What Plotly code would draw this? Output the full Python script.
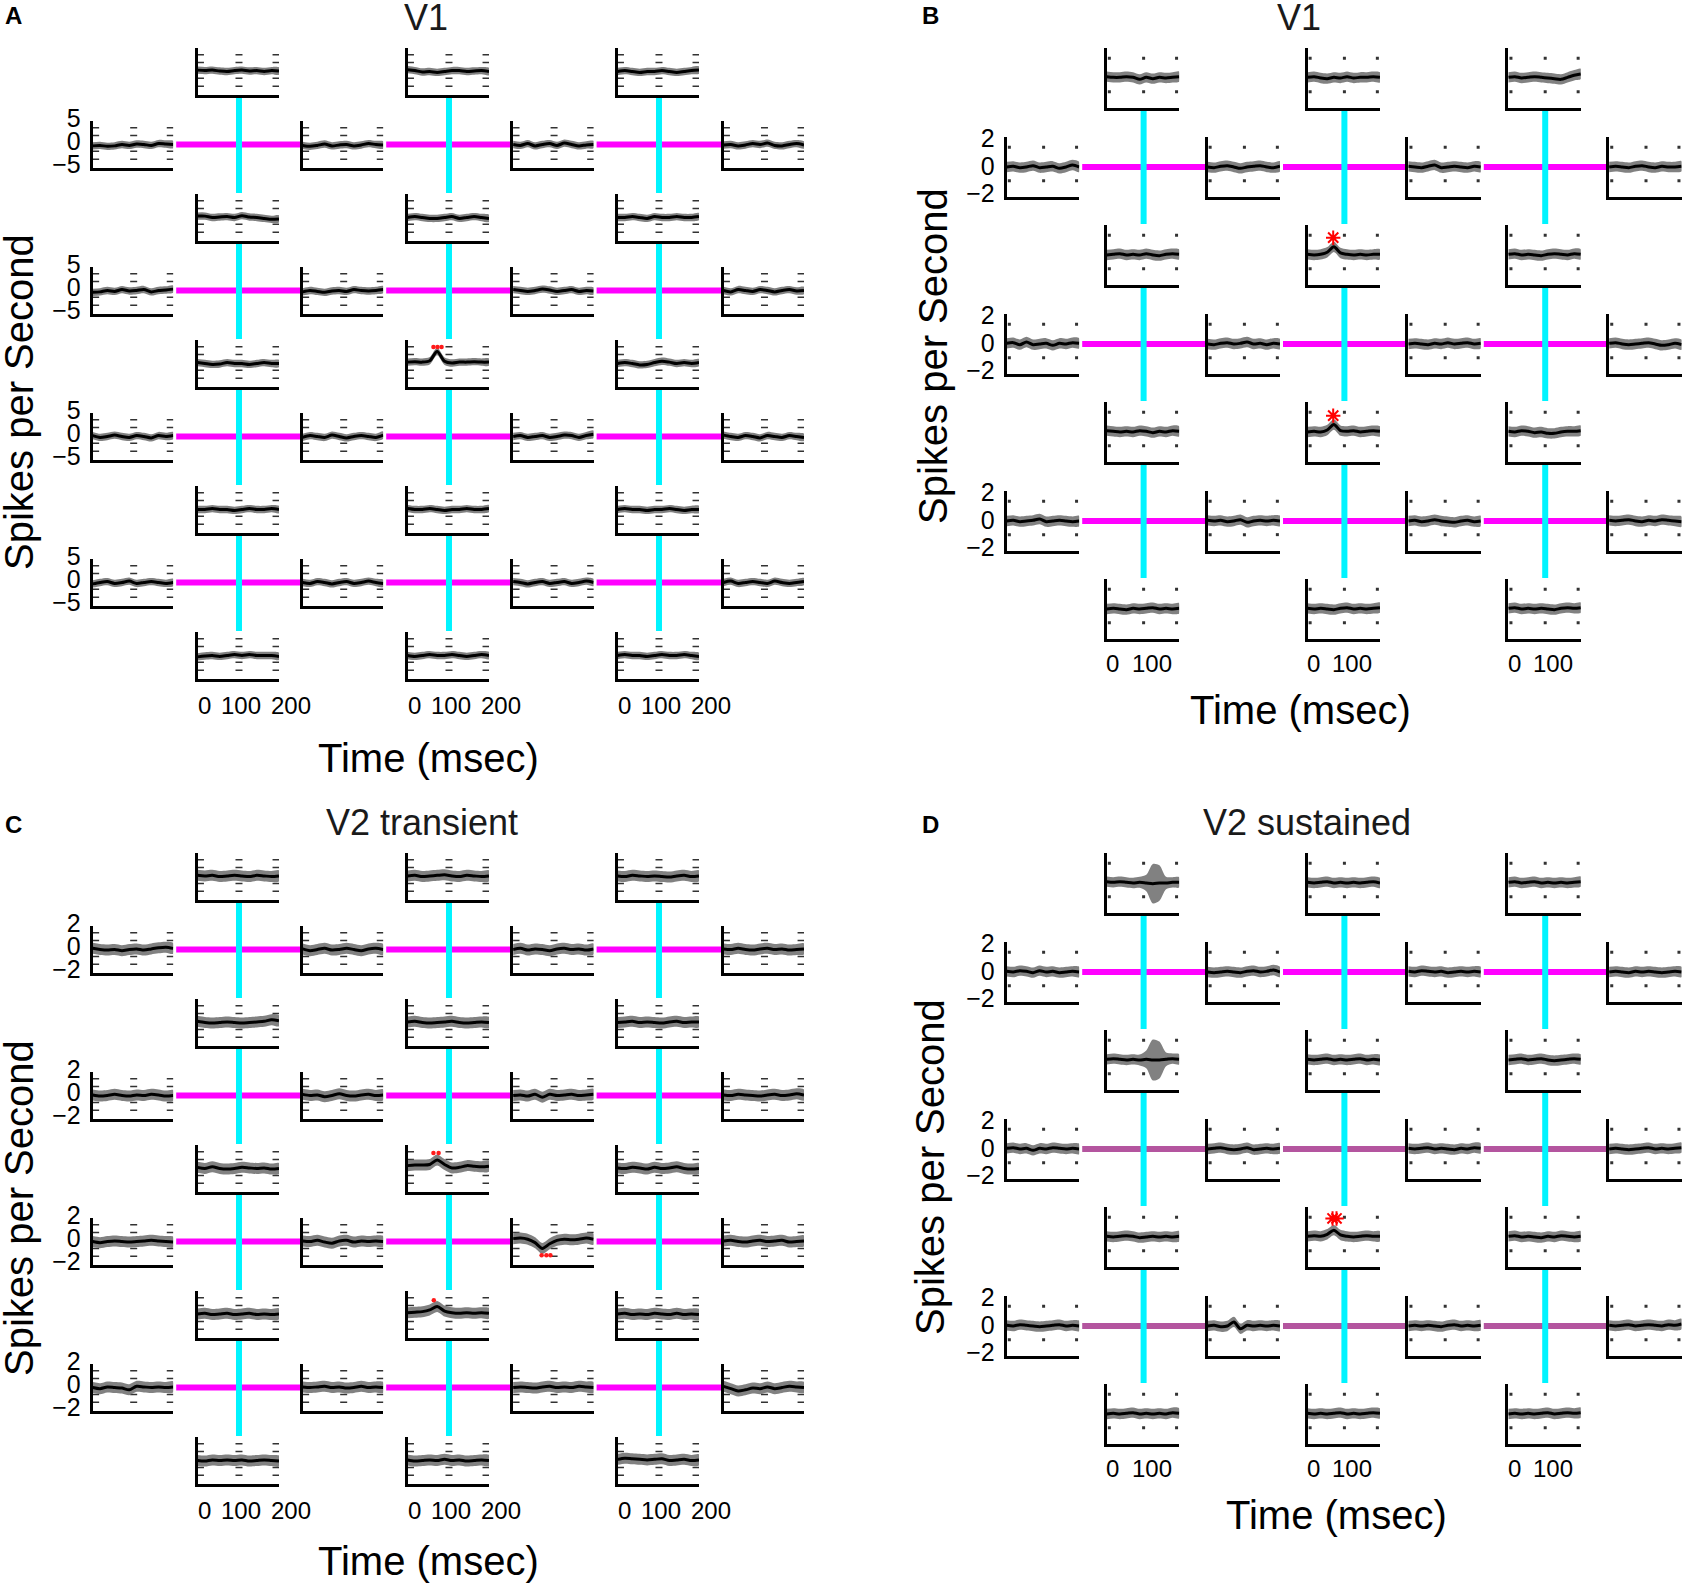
import plotly.graph_objects as go

W, H = 1683, 1585
FONT = "Liberation Sans, Arial, sans-serif"

# ---------------- data ----------------
T_MS = [-12, 8, 28, 48, 68, 88, 108, 128, 148, 168, 188, 208]
X_RANGE = [-12, 208]

# Panel A (V1) - horizontal-row plots (4 rows x 4) and vertical-column plots (5 rows x 3)
A_H = [
    [-0.3, -0.2, -0.4, -0.3, 0.0, -0.2, 0.1, 0.0, -0.2, 0.2, 0.1, 0.0],
    [-0.2, -0.4, -0.2, 0.1, -0.3, -0.1, 0.0, -0.3, -0.1, 0.2, 0.0, -0.1],
    [0.0, -0.2, 0.2, -0.3, 0.0, 0.2, -0.2, 0.3, 0.0, -0.3, -0.1, 0.0],
    [-0.1, 0.0, -0.3, -0.1, 0.2, 0.0, 0.3, -0.2, -0.3, 0.0, 0.2, -0.1],
    [-0.4, -0.3, 0.0, -0.2, 0.2, -0.1, 0.0, 0.2, -0.3, 0.0, 0.1, 0.3],
    [-0.3, 0.0, -0.2, -0.4, -0.1, 0.0, -0.2, 0.2, 0.0, -0.1, 0.0, 0.2],
    [0.2, 0.0, -0.2, 0.0, 0.3, 0.1, -0.2, 0.0, 0.2, -0.2, 0.0, -0.1],
    [0.0, -0.3, 0.2, 0.0, -0.2, 0.2, 0.0, -0.3, 0.0, 0.2, -0.1, 0.0],
    [0.2, -0.2, 0.0, 0.3, 0.0, -0.2, 0.2, 0.0, -0.3, 0.2, 0.0, 0.2],
    [-0.2, 0.2, 0.0, -0.2, 0.3, 0.0, -0.3, 0.0, 0.2, 0.0, -0.2, 0.3],
    [0.0, 0.2, -0.2, 0.0, 0.2, -0.2, 0.0, 0.3, 0.2, -0.2, 0.2, 0.5],
    [0.3, 0.0, -0.2, 0.2, 0.0, -0.3, 0.2, 0.0, -0.2, 0.2, 0.0, -0.2],
    [-0.3, 0.0, 0.2, -0.2, 0.0, 0.3, -0.2, 0.0, 0.2, 0.0, -0.2, 0.0],
    [0.0, -0.2, 0.2, 0.0, -0.3, 0.0, 0.2, -0.2, 0.0, 0.3, 0.0, -0.2],
    [0.2, 0.0, -0.3, 0.0, 0.2, -0.2, 0.0, 0.2, -0.2, 0.0, 0.3, 0.0],
    [0.0, 0.3, -0.2, 0.0, 0.2, 0.0, -0.2, 0.3, 0.0, -0.2, 0.0, 0.2],
]
A_V = [
    [0.3, 0.2, 0.3, 0.1, 0.0, 0.2, 0.3, 0.1, 0.2, 0.0, 0.2, 0.1],
    [0.4, 0.2, -0.1, 0.0, -0.2, 0.0, 0.2, 0.2, 0.0, 0.1, 0.2, 0.0],
    [0.0, 0.2, 0.0, -0.2, 0.0, 0.0, 0.2, 0.0, -0.2, 0.0, 0.2, 0.3],
    [0.3, 0.3, 0.0, 0.1, 0.2, 0.0, 0.4, 0.1, 0.0, -0.2, -0.4, -0.3],
    [0.0, 0.2, 0.0, -0.2, -0.2, 0.0, 0.2, -0.2, 0.0, 0.2, 0.0, -0.2],
    [0.0, 0.0, 0.2, 0.0, -0.2, 0.2, 0.0, 0.0, 0.2, 0.0, 0.0, 0.2],
    [0.2, 0.0, -0.2, -0.1, 0.2, 0.0, 0.0, -0.2, 0.0, 0.2, 0.0, 0.0],
    [0.3, 0.4, 0.3, 0.6, 2.6, 0.5, 0.1, 0.3, 0.3, 0.4, 0.3, 0.3],
    [0.0, 0.2, 0.0, -0.3, -0.2, 0.2, 0.5, 0.3, 0.0, 0.2, 0.0, 0.2],
    [0.0, 0.0, 0.2, 0.0, 0.0, -0.2, 0.0, 0.2, 0.0, 0.0, 0.2, 0.0],
    [0.2, 0.0, 0.0, 0.2, 0.0, -0.2, 0.0, 0.0, 0.2, 0.0, 0.0, 0.2],
    [0.0, 0.2, 0.0, 0.0, -0.2, 0.0, 0.0, 0.2, 0.0, -0.2, 0.0, 0.0],
    [-0.3, -0.1, 0.0, -0.2, 0.0, 0.2, 0.0, 0.2, 0.0, 0.0, 0.0, -0.2],
    [0.0, -0.2, 0.0, 0.2, 0.0, 0.0, 0.2, 0.0, -0.2, 0.0, 0.2, 0.0],
    [0.0, 0.2, 0.0, 0.0, -0.2, 0.0, 0.2, 0.0, 0.0, 0.2, 0.0, -0.2],
]

# Panel B (V1) - 3 rows x 4 horizontal, 4 rows x 3 vertical
B_H = [
    [0.0, 0.05, -0.05, 0.0, 0.1, -0.05, 0.0, 0.05, -0.1, 0.0, 0.15, 0.0],
    [0.0, -0.05, 0.05, 0.1, 0.0, -0.1, 0.0, 0.05, 0.1, 0.0, -0.05, 0.05],
    [0.05, 0.0, -0.05, 0.05, 0.15, -0.05, 0.0, 0.05, 0.0, -0.05, 0.05, 0.0],
    [0.0, 0.05, 0.0, -0.05, 0.05, 0.1, 0.0, -0.05, 0.05, 0.0, 0.0, 0.05],
    [0.05, 0.1, -0.05, 0.15, -0.05, 0.0, 0.05, -0.1, 0.05, 0.0, 0.1, 0.05],
    [0.0, -0.05, 0.05, 0.1, 0.0, 0.05, 0.15, 0.0, 0.05, -0.05, 0.05, 0.0],
    [0.0, 0.05, 0.0, -0.05, 0.05, 0.0, 0.1, 0.0, 0.05, 0.1, 0.0, 0.05],
    [0.05, 0.1, 0.0, -0.05, 0.0, 0.05, 0.1, 0.0, -0.1, -0.05, 0.05, -0.05],
    [0.0, 0.05, -0.05, 0.0, 0.05, 0.15, -0.05, 0.0, 0.05, 0.0, -0.05, 0.0],
    [0.05, 0.0, 0.05, -0.05, 0.0, 0.1, -0.1, 0.0, 0.05, 0.0, 0.05, 0.0],
    [0.0, 0.05, -0.05, 0.0, 0.1, 0.0, -0.05, -0.1, 0.0, 0.05, -0.05, 0.0],
    [0.05, 0.0, 0.05, 0.1, 0.0, -0.05, 0.05, 0.0, 0.1, 0.05, 0.0, -0.05],
]
B_V = [
    [0.1, 0.05, 0.05, 0.1, 0.05, -0.1, 0.05, -0.05, 0.05, 0.0, 0.05, 0.1],
    [0.05, 0.1, 0.0, -0.05, 0.05, 0.0, 0.1, 0.0, 0.05, 0.05, 0.1, 0.05],
    [0.05, 0.1, 0.0, 0.05, 0.1, 0.05, 0.0, -0.05, -0.1, 0.05, 0.2, 0.3],
    [0.0, 0.05, 0.1, 0.0, 0.05, 0.0, 0.1, 0.0, -0.05, 0.05, 0.1, 0.05],
    [0.05, 0.0, 0.05, 0.2, 0.6, 0.15, 0.05, 0.0, 0.05, 0.0, 0.05, 0.05],
    [0.05, 0.1, 0.0, 0.05, 0.0, -0.05, 0.05, 0.1, 0.05, 0.0, 0.1, 0.05],
    [0.1, 0.05, 0.0, 0.05, 0.0, 0.1, 0.05, -0.05, 0.05, 0.0, 0.1, 0.05],
    [0.0, 0.05, 0.0, 0.15, 0.55, 0.1, 0.05, 0.1, 0.0, 0.05, 0.1, 0.05],
    [0.05, 0.0, 0.1, 0.05, -0.05, 0.0, -0.1, -0.1, 0.0, 0.05, 0.05, 0.1],
    [0.0, 0.05, 0.0, -0.05, 0.05, 0.0, 0.05, 0.1, 0.0, 0.05, 0.0, 0.05],
    [0.05, 0.0, 0.05, 0.0, -0.05, 0.05, 0.1, 0.0, 0.05, 0.0, 0.05, 0.1],
    [0.05, 0.1, 0.0, 0.05, 0.0, 0.05, 0.0, -0.05, 0.05, 0.1, 0.05, 0.1],
]

# Panel C (V2 transient)
C_H = [
    [0.1, 0.0, -0.05, 0.0, -0.1, 0.0, 0.05, -0.05, 0.05, 0.15, 0.2, 0.1],
    [0.05, -0.1, 0.0, 0.1, -0.05, 0.0, 0.1, 0.0, -0.1, 0.05, 0.1, 0.0],
    [0.0, 0.1, -0.05, 0.05, 0.0, -0.1, 0.05, 0.1, 0.0, 0.05, -0.05, 0.05],
    [0.05, 0.0, 0.1, 0.0, -0.05, 0.05, 0.1, 0.0, 0.05, -0.05, 0.0, 0.05],
    [0.05, -0.05, 0.0, 0.1, 0.0, -0.05, 0.05, 0.0, 0.1, 0.05, -0.05, 0.0],
    [0.1, 0.0, 0.05, -0.1, 0.0, 0.15, 0.0, -0.05, 0.05, 0.1, 0.0, 0.05],
    [0.0, 0.05, -0.05, 0.1, -0.15, 0.1, 0.0, 0.05, 0.1, 0.0, 0.05, 0.1],
    [0.05, 0.0, 0.1, 0.05, 0.0, -0.05, 0.05, 0.1, 0.0, 0.05, 0.15, 0.05],
    [0.0, -0.1, 0.0, 0.05, 0.0, -0.05, 0.0, 0.05, 0.1, 0.05, 0.0, -0.05],
    [0.05, 0.0, 0.1, -0.05, -0.15, 0.05, 0.1, -0.05, 0.05, 0.0, 0.05, 0.0],
    [0.25, 0.3, 0.2, -0.1, -0.6, -0.2, 0.1, 0.2, 0.15, 0.2, 0.3, 0.2],
    [0.05, 0.1, 0.0, -0.05, 0.05, 0.1, 0.0, 0.05, 0.1, -0.05, 0.0, 0.05],
    [0.0, -0.1, 0.05, 0.0, -0.05, -0.2, 0.1, 0.05, 0.0, 0.05, 0.0, 0.05],
    [0.05, 0.0, 0.05, 0.1, 0.0, 0.05, -0.05, 0.0, 0.1, 0.0, 0.05, 0.0],
    [0.0, 0.05, 0.0, -0.05, 0.05, 0.1, 0.0, 0.05, 0.0, 0.1, 0.05, 0.0],
    [0.1, -0.1, -0.3, -0.2, -0.05, -0.1, 0.05, -0.1, 0.0, 0.1, 0.05, 0.0],
]
C_V = [
    [0.1, 0.05, 0.1, 0.0, 0.05, 0.1, 0.05, 0.0, 0.1, 0.05, 0.0, 0.05],
    [0.05, 0.1, 0.0, 0.05, 0.1, 0.15, 0.05, 0.0, 0.1, 0.05, 0.0, 0.05],
    [0.05, 0.0, 0.1, 0.05, 0.0, 0.05, 0.0, -0.05, 0.05, 0.1, 0.0, 0.05],
    [0.1, 0.0, -0.05, 0.0, 0.05, 0.0, -0.05, 0.0, 0.05, 0.1, 0.25, 0.15],
    [0.05, 0.1, 0.0, -0.05, 0.0, 0.05, 0.1, 0.0, -0.05, 0.0, 0.05, 0.0],
    [0.0, 0.05, 0.1, 0.0, 0.05, 0.0, -0.05, 0.05, 0.1, 0.0, 0.05, 0.05],
    [0.1, 0.0, 0.15, 0.0, -0.05, 0.0, 0.1, 0.05, 0.0, 0.05, -0.05, 0.0],
    [0.25, 0.3, 0.3, 0.35, 0.75, 0.35, 0.05, 0.1, 0.25, 0.2, 0.15, 0.2],
    [0.05, 0.0, 0.1, 0.05, -0.05, 0.1, 0.0, 0.05, 0.15, 0.0, -0.05, 0.0],
    [0.05, 0.1, 0.0, 0.05, 0.1, 0.0, 0.05, 0.1, 0.0, 0.05, 0.0, 0.05],
    [0.15, 0.2, 0.25, 0.4, 0.7, 0.3, 0.15, 0.1, 0.15, 0.1, 0.15, 0.1],
    [0.05, 0.1, 0.0, 0.05, 0.0, 0.1, 0.05, 0.0, 0.1, 0.0, 0.05, 0.0],
    [0.0, -0.05, 0.05, 0.0, 0.05, 0.0, 0.05, -0.05, 0.0, 0.05, 0.0, -0.05],
    [0.05, -0.05, 0.0, 0.05, 0.0, 0.1, 0.0, 0.05, -0.05, 0.0, 0.05, 0.0],
    [0.1, 0.2, 0.15, 0.1, 0.05, 0.1, 0.15, 0.0, 0.05, 0.1, 0.0, 0.05],
]

# Panel D (V2 sustained)
D_H = [
    [0.05, 0.0, 0.1, 0.05, -0.05, 0.1, 0.0, 0.05, -0.05, 0.0, 0.05, 0.0],
    [0.0, -0.05, 0.0, 0.05, 0.0, -0.05, 0.05, 0.1, 0.0, 0.05, 0.15, 0.0],
    [0.05, 0.0, 0.1, 0.05, 0.0, 0.05, -0.05, 0.0, 0.05, 0.0, 0.05, 0.0],
    [0.0, 0.05, 0.0, -0.05, 0.05, 0.0, 0.05, 0.0, -0.05, 0.0, 0.05, 0.0],
    [0.05, 0.1, 0.0, 0.05, -0.1, 0.05, 0.0, 0.1, 0.05, 0.0, 0.05, 0.0],
    [0.0, 0.05, 0.1, 0.0, -0.05, 0.0, 0.1, -0.05, 0.0, 0.05, 0.0, 0.05],
    [0.05, 0.0, 0.05, 0.1, 0.0, 0.05, 0.0, -0.05, 0.05, 0.0, 0.1, 0.05],
    [0.0, 0.05, 0.0, -0.05, 0.0, 0.05, 0.1, 0.0, 0.05, 0.0, 0.05, 0.1],
    [0.05, 0.0, 0.1, 0.05, 0.0, -0.05, 0.0, 0.05, 0.1, 0.0, 0.05, 0.0],
    [0.0, 0.05, -0.05, 0.0, 0.3, -0.2, 0.05, 0.0, 0.05, 0.0, 0.05, 0.0],
    [0.0, 0.05, 0.0, 0.05, 0.0, -0.05, 0.05, 0.1, 0.0, 0.05, 0.0, 0.05],
    [0.05, 0.0, 0.05, 0.1, 0.0, 0.05, 0.1, 0.05, 0.0, 0.1, 0.05, 0.15],
]
D_V = [
    [0.1, 0.05, 0.1, 0.05, 0.0, 0.05, 0.0, -0.05, 0.0, 0.0, 0.05, 0.05],
    [0.05, 0.0, 0.05, 0.1, 0.0, 0.05, 0.0, 0.05, 0.0, 0.05, 0.1, 0.0],
    [0.05, 0.1, 0.0, 0.05, 0.1, 0.0, 0.05, 0.0, 0.05, 0.0, 0.05, 0.1],
    [0.05, 0.1, 0.05, 0.0, 0.05, 0.0, 0.05, 0.0, 0.0, 0.05, 0.1, 0.05],
    [0.05, 0.0, 0.05, 0.1, 0.0, 0.05, 0.0, 0.05, 0.1, 0.0, 0.05, 0.0],
    [0.0, 0.05, 0.1, 0.0, 0.05, 0.1, 0.0, -0.05, 0.0, 0.05, 0.1, 0.05],
    [0.05, 0.0, 0.05, 0.1, 0.05, -0.05, 0.0, 0.05, 0.0, 0.05, 0.0, 0.05],
    [0.05, 0.1, 0.05, 0.2, 0.5, 0.15, 0.05, 0.0, 0.05, 0.1, 0.05, 0.05],
    [0.05, 0.1, 0.0, 0.05, 0.0, -0.05, 0.05, 0.0, 0.1, 0.05, 0.0, 0.05],
    [0.0, 0.05, 0.0, 0.05, 0.1, 0.0, 0.05, 0.0, 0.05, 0.0, 0.1, 0.05],
    [0.05, 0.0, 0.05, 0.0, 0.05, 0.1, 0.0, 0.05, 0.0, 0.05, 0.1, 0.05],
    [0.0, 0.05, 0.0, 0.05, 0.0, 0.05, 0.1, 0.0, 0.05, 0.1, 0.05, 0.1],
]

# standard errors (band half-widths)
SEM_A, SEM_B, SEM_C, SEM_D = 0.8, 0.38, 0.48, 0.38
D_BLOB_SEM = {
    0: [0.38, 0.38, 0.38, 0.38, 0.38, 0.4, 0.6, 1.45, 1.3, 0.45, 0.38, 0.38],
    3: [0.38, 0.38, 0.38, 0.38, 0.38, 0.4, 0.65, 1.5, 1.35, 0.5, 0.38, 0.38],
}

# significance marks: (plot kind, index) -> (times, values)
A_MARKS = {("V", 7): ([58, 69, 80], [3.6, 3.6, 3.6])}
B_MARKS = {("V", 4): ([66], [1.27]), ("V", 7): ([66], [1.2])}
C_MARKS = {("V", 7): ([58, 72], [1.35, 1.35]),
           ("H", 10): ([66, 79, 90], [-1.21, -1.21, -1.21]),
           ("V", 10): ([59], [1.24])}
D_MARKS = {("V", 7): ([64, 76], [1.36, 1.36])}

# dotted-grid remnants
GRID_T = [-4, 100, 200]
GRID_Y_A = [3.62, 1.94, -1.48, -3.2]
GRID_Y_C = [1.46, 0.78, -0.6, -1.29]
GRID_Y_BD = [1.45, -1.0]

Y_RANGE_A = [-5.1, 5.1]
Y_RANGE_C = [-2.05, 2.05]
Y_RANGE_BD = [-2.2, 2.2]
Y_TICKS_A, Y_TEXT_A = [-5, 0, 5], ["\u22125", "0", "5"]
Y_TICKS_2, Y_TEXT_2 = [-2, 0, 2], ["\u22122", "0", "2"]
X_TICKS_AC = [0, 100, 200]
X_TICKS_BD = [0, 100]

# ---------------- geometry (pixels) ----------------
GEO = {
    "AC": dict(hx=[92.7, 302.7, 513.1, 723.5], hw=80.5, vx=[197.5, 407.5, 617.5], vw=81.5,
               hy=[121, 267, 413, 559], hh=47, vy=[48, 194, 340, 486, 632], vh=47,
               xlab_dy=25, xshift=[3, 2, 15]),
    "BD": dict(hx=[1006.7, 1207.5, 1408.3, 1609.1], hw=72.5, vx=[1106.7, 1307.5, 1508.3], vw=72.5,
               hy=[137, 314, 491], hh=60, vy=[48, 225, 402, 579], vh=60,
               xlab_dy=23, xshift=[2, 8]),
}

MAGENTA = "#ff00ff"
PURPLE = "#b4559f"
CYAN = "#00f4ff"
BAND = "rgba(115,115,115,0.9)"
GRIDC = "#333333"

fig = go.Figure()
axes = {}
shapes = []
annotations = []
counter = [0]


def py(y):
    return 1 - y / H


def new_axes(x0, y0, w, h, yrange, ylabels=None, lshift=0):
    counter[0] += 1
    k = counter[0]
    s = "" if k == 1 else str(k)
    xa = dict(domain=[x0 / W, (x0 + w) / W], anchor="y" + s, range=X_RANGE,
              showline=True, linecolor="black", linewidth=3, showgrid=False,
              zeroline=False, showticklabels=False, ticks="", fixedrange=True,
              automargin=False)
    ya = dict(domain=[py(y0 + h), py(y0)], anchor="x" + s, range=yrange,
              showline=True, linecolor="black", linewidth=3, showgrid=False,
              zeroline=False, ticks="", fixedrange=True, automargin=False,
              showticklabels=False)
    if ylabels is not None:
        ya.update(showticklabels=True, tickmode="array", tickvals=ylabels[0],
                  ticktext=ylabels[1], tickfont=dict(family=FONT, size=25, color="black"),
                  ticklabelshift=lshift, ticklabelstandoff=4)
    axes["xaxis" + s] = xa
    axes["yaxis" + s] = ya
    return "x" + s, "y" + s


def draw_plot(xr, yr, mean, sem, grid_y, small_grid, marks, star):
    sems = sem if isinstance(sem, list) else [sem] * len(mean)
    gx = [t for _ in grid_y for t in GRID_T]
    gy = [g for g in grid_y for _ in GRID_T]
    if small_grid:
        gm = dict(symbol="square", size=3, color=GRIDC)
    else:
        gm = dict(symbol="line-ew-open", size=5, color=GRIDC, line=dict(width=1.5, color=GRIDC))
    fig.add_trace(go.Scatter(x=gx, y=gy, mode="markers", marker=gm, xaxis=xr, yaxis=yr,
                             hoverinfo="skip"))
    upper = [m + s for m, s in zip(mean, sems)]
    lower = [m - s for m, s in zip(mean, sems)]
    fig.add_trace(go.Scatter(x=T_MS + T_MS[::-1], y=upper + lower[::-1], fill="toself",
                             fillcolor=BAND, mode="lines",
                             line=dict(width=0, shape="spline", smoothing=0.8),
                             xaxis=xr, yaxis=yr, hoverinfo="skip"))
    fig.add_trace(go.Scatter(x=T_MS, y=mean, mode="lines",
                             line=dict(color="black", width=3, shape="spline", smoothing=0.8),
                             xaxis=xr, yaxis=yr, hoverinfo="skip"))
    if marks is not None:
        if star:
            mk = dict(symbol="asterisk-open", size=12, color="red", line=dict(width=2, color="red"))
        else:
            mk = dict(symbol="circle", size=4.5, color="#ff1a1a")
        fig.add_trace(go.Scatter(x=marks[0], y=marks[1], mode="markers", marker=mk,
                                 xaxis=xr, yaxis=yr, hoverinfo="skip", cliponaxis=False))


def build_panel(geo_key, oy, hdata, vdata, sem, yrange, ylabels, lshift, grid_y, small_grid,
                marks, star, row_colors, blob=None):
    g = GEO[geo_key]
    nh_rows, nv_rows = len(g["hy"]), len(g["vy"])
    h_axes = {}
    v_axes = {}
    for r in range(nh_rows):
        for c in range(4):
            idx = r * 4 + c
            xr, yr = new_axes(g["hx"][c], g["hy"][r] + oy, g["hw"], g["hh"], yrange,
                              ylabels if c == 0 else None, lshift)
            h_axes[(r, c)] = (xr, yr)
            draw_plot(xr, yr, hdata[idx], sem, grid_y, small_grid, marks.get(("H", idx)), star)
    for r in range(nv_rows):
        for c in range(3):
            idx = r * 3 + c
            xr, yr = new_axes(g["vx"][c], g["vy"][r] + oy, g["vw"], g["vh"], yrange)
            v_axes[(r, c)] = (xr, yr)
            s = blob[idx] if blob and idx in blob else sem
            draw_plot(xr, yr, vdata[idx], s, grid_y, small_grid, marks.get(("V", idx)), star)
            if r == nv_rows - 1:
                ticks = X_TICKS_AC if geo_key == "AC" else X_TICKS_BD
                for t, sh in zip(ticks, g["xshift"]):
                    annotations.append(dict(
                        text=str(t), xref=xr, x=t, xshift=sh, yref="paper",
                        y=py(g["vy"][r] + oy + g["vh"] + g["xlab_dy"] + 1), showarrow=False,
                        xanchor="center", yanchor="middle",
                        font=dict(family=FONT, size=24, color="black")))
    # magenta horizontal connectors
    for r in range(nh_rows):
        for c in range(3):
            yr = h_axes[(r, c)][1]
            shapes.append(dict(type="line", xref="paper", yref=yr,
                               x0=(g["hx"][c] + g["hw"] + 3) / W, x1=(g["hx"][c + 1] - 1) / W,
                               y0=0, y1=0, line=dict(color=row_colors[r], width=6),
                               layer="below"))
    # cyan vertical connectors
    for r in range(nv_rows - 1):
        for c in range(3):
            xr = v_axes[(r, c)][0]
            shapes.append(dict(type="line", xref=xr, yref="paper", x0=100, x1=100,
                               y0=py(g["vy"][r] + oy + g["vh"] + 1.5),
                               y1=py(g["vy"][r + 1] + oy - 1),
                               line=dict(color=CYAN, width=6), layer="below"))


build_panel("AC", 0, A_H, A_V, SEM_A, Y_RANGE_A, (Y_TICKS_A, Y_TEXT_A), -3, GRID_Y_A, False,
            A_MARKS, False, [MAGENTA] * 4)
build_panel("BD", 0, B_H, B_V, SEM_B, Y_RANGE_BD, (Y_TICKS_2, Y_TEXT_2), -1, GRID_Y_BD, True,
            B_MARKS, True, [MAGENTA] * 3)
build_panel("AC", 805, C_H, C_V, SEM_C, Y_RANGE_C, (Y_TICKS_2, Y_TEXT_2), -3, GRID_Y_C, False,
            C_MARKS, False, [MAGENTA] * 4)
build_panel("BD", 805, D_H, D_V, SEM_D, Y_RANGE_BD, (Y_TICKS_2, Y_TEXT_2), -1, GRID_Y_BD, True,
            D_MARKS, True, [MAGENTA, PURPLE, PURPLE], blob=D_BLOB_SEM)


def text(t, x, y, size, angle=0, color="black"):
    annotations.append(dict(text=t, x=x / W, y=py(y), xref="paper", yref="paper",
                            showarrow=False, textangle=angle, xanchor="center",
                            yanchor="middle", font=dict(family=FONT, size=size, color=color)))


PANEL_TEXT = [
    ("A", (13.5, 16), "V1", (426, 17), (429, 758), (19, 402)),
    ("B", (930.5, 16), "V1", (1299, 17), (1300, 710), (933, 356)),
    ("C", (13.5, 824), "V2 transient", (422, 822), (429, 1561), (19, 1208)),
    ("D", (930.5, 824), "V2 sustained", (1307, 822), (1336, 1515), (930, 1167)),
]
for letter, lp, title, tp, xp, yp in PANEL_TEXT:
    text("<b>" + letter + "</b>", lp[0], lp[1], 24)
    text(title, tp[0], tp[1], 36, color="#1a1a1a")
    text("Time (msec)", xp[0], xp[1], 40)
    text("Spikes per Second", yp[0], yp[1], 40, angle=-90)

fig.update_layout(
    width=W, height=H, margin=dict(l=0, r=0, t=0, b=0), template="none",
    paper_bgcolor="white", plot_bgcolor="rgba(0,0,0,0)", showlegend=False,
    shapes=shapes, annotations=annotations, font=dict(family=FONT), **axes)

fig.write_html("out.html", config={"displayModeBar": False},
               post_script="document.body.style.margin='0';document.body.style.overflow='hidden';")
